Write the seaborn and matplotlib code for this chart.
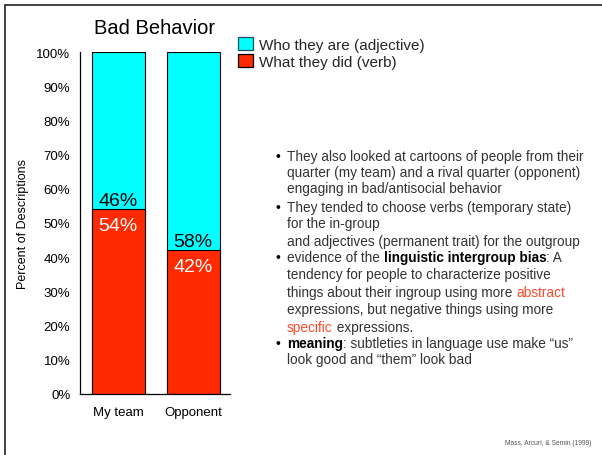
import pandas as pd
import seaborn as sns
import matplotlib.pyplot as plt
from matplotlib.patches import Patch
from matplotlib.lines import Line2D

# data
teams = ["My team", "Opponent"]
verb = [54, 42]          # What they did (verb)
adjective = [46, 58]     # Who they are (adjective)
yticks = [0, 10, 20, 30, 40, 50, 60, 70, 80, 90, 100]

cyan = "#00ffff"
red = "#ff2a00"
textgrey = "#333333"
accent = "#ff4a2a"

sns.set_style("white")
plt.rcParams['font.family'] = ['Liberation Sans', 'DejaVu Sans']

W, H = 602, 456
fig = plt.figure(figsize=(W / 100, H / 100), dpi=100)
ax = fig.add_axes([80 / W, 1 - 395 / H, 150 / W, 342 / H])

df = pd.DataFrame({"team": teams, "verb": verb, "adjective": adjective})
df["total"] = df["verb"] + df["adjective"]

sns.barplot(data=df, x="team", y="total", color=cyan, saturation=1,
            edgecolor="black", linewidth=0.8, width=0.71, ax=ax)
sns.barplot(data=df, x="team", y="verb", color=red, saturation=1,
            edgecolor="black", linewidth=0.8, width=0.71, ax=ax)

# percentage labels around the split
for i, row in df.iterrows():
    ax.annotate(f"{row['adjective']}%", (i, row["verb"]), xytext=(0, 0.5),
                textcoords="offset points", ha="center", va="bottom",
                fontsize=14, color="black")
    ax.annotate(f"{row['verb']}%", (i, row["verb"]), xytext=(0, -5.5),
                textcoords="offset points", ha="center", va="top",
                fontsize=14, color="white")

ax.set_ylim(0, 100)
ax.set_xlim(-0.51, 1.49)
ax.set_yticks(yticks)
ax.set_yticklabels([f"{v}%" for v in yticks])
ax.tick_params(length=0, pad=7, labelsize=9.5, colors="black")
ax.tick_params(axis="x", pad=9)
ax.set_xlabel("")
ax.set_ylabel("Percent of Descriptions", fontsize=9, color="black")
ax.yaxis.set_label_coords(-0.34, 0.5)
ax.set_title("Bad Behavior", fontsize=14.5, pad=14, color="black")
sns.despine(ax=ax)
for s in ["left", "bottom"]:
    ax.spines[s].set_color("black")
    ax.spines[s].set_linewidth(0.9)

handles = [Patch(facecolor=cyan, edgecolor="#1f4f5f", linewidth=0.9),
           Patch(facecolor=red, edgecolor="black", linewidth=0.9)]
fig.legend(handles, ["Who they are (adjective)", "What they did (verb)"],
           loc="upper left", bbox_to_anchor=(238 / W, 1 - 38 / H),
           frameon=False, fontsize=11, handlelength=0.95, handleheight=0.95,
           handletextpad=0.45, labelspacing=0.15, borderpad=0, borderaxespad=0)

# bullet text
renderer = fig.canvas.get_renderer()


def advance(txt, weight):
    # width of txt incl. spaces: measure with a marker and subtract the marker
    a = fig.text(0, 0, txt + "|", fontsize=9.8, fontweight=weight)
    b = fig.text(0, 0, "|", fontsize=9.8, fontweight=weight)
    w = a.get_window_extent(renderer).width - b.get_window_extent(renderer).width
    a.remove()
    b.remove()
    return w


N, B, R = ("normal", textgrey), ("bold", "black"), ("normal", accent)
lines = [
    (157, True, [("They also looked at cartoons of people from their", N)]),
    (173, False, [("quarter (my team) and a rival quarter (opponent)", N)]),
    (189, False, [("engaging in bad/antisocial behavior", N)]),
    (208, True, [("They tended to choose verbs (temporary state)", N)]),
    (224, False, [("for the in-group", N)]),
    (242, False, [("and adjectives (permanent trait) for the outgroup", N)]),
    (258, True, [("evidence of the ", N), ("linguistic intergroup bias", B), (": A", N)]),
    (275, False, [("tendency for people to characterize positive", N)]),
    (293, False, [("things about their ingroup using more ", N), ("abstract", R)]),
    (310, False, [("expressions, but negative things using more", N)]),
    (328, False, [("specific", R), (" expressions.", N)]),
    (344, True, [("meaning", B), (": subtleties in language use make \u201cus\u201d", N)]),
    (360, False, [("look good and \u201cthem\u201d look bad", N)]),
]
for y, bullet, segs in lines:
    yb = 1 - (y + 4) / H
    if bullet:
        fig.text(276 / W, yb, "\u2022", fontsize=10, color="black", va="baseline")
    x = 287 / W
    for txt, (weight, col) in segs:
        fig.text(x, yb, txt, fontsize=9.8, fontweight=weight, color=col,
                 va="baseline")
        x += advance(txt, weight) / W

fig.text(591 / W, 1 - 444 / H, "Mass, Arcuri, & Semin (1999)", fontsize=4.8,
         color="#555555", ha="right", va="center")

# slide frame lines
fig.add_artist(Line2D([5 / W, 1], [1 - 6 / H, 1 - 6 / H], color="#222222", lw=1.2))
fig.add_artist(Line2D([5 / W, 5 / W], [0, 1 - 6 / H], color="#222222", lw=1.2))

fig.savefig("out.png", dpi=100)
